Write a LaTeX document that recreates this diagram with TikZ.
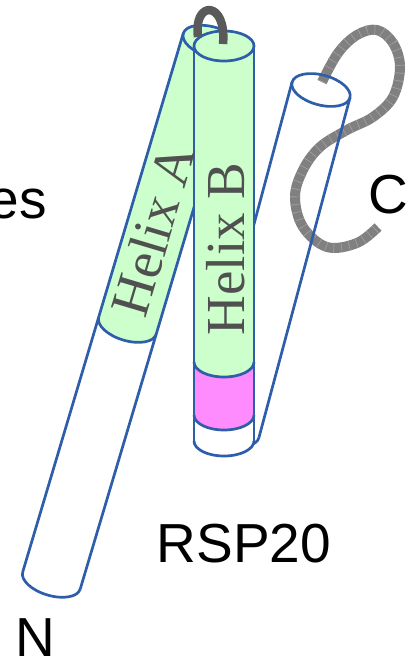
\documentclass[tikz,border=0pt]{standalone}
\usepackage{fontspec}
\setmainfont{Liberation Serif}
\setsansfont{Liberation Sans}
\definecolor{helixblue}{HTML}{2E5EAA}
\definecolor{helixgreen}{HTML}{CCFFCC}
\definecolor{helixpink}{HTML}{FF8CFF}
\definecolor{loopgray}{HTML}{808080}
\definecolor{tickgray}{HTML}{9C9C9C}
\definecolor{archgray}{HTML}{5A5A5A}
\definecolor{labelgray}{HTML}{505050}

% cylinder helpers: local axis runs along +y from the top face centre
\def\cw{30}
\def\cr{15}
\newcommand\cylband[3]{\fill[#3] (-\cw,#1) arc[start angle=180,end angle=0,x radius=\cw,y radius=\cr] -- (\cw,#2) arc[start angle=0,end angle=180,x radius=\cw,y radius=\cr] -- cycle;}
\newcommand\cyltopfill[1]{\fill[#1] (0,0) ellipse[x radius=\cw,y radius=\cr];}
\newcommand\cylrim[1]{\draw[outline] (-\cw,#1) arc[start angle=180,end angle=0,x radius=\cw,y radius=\cr];}
\newcommand\cylsides[1]{\draw[outline] (-\cw,0) -- (-\cw,#1) (\cw,0) -- (\cw,#1);}
\newcommand\cyltopline{\draw[outline] (0,0) ellipse[x radius=\cw,y radius=\cr];}

\begin{document}
\begin{tikzpicture}[x=1pt,y=-1pt,line join=round,
  outline/.style={draw=helixblue,line width=2.7pt},
  helixlabel/.style={font=\fontsize{55}{60}\selectfont,text=labelgray,inner sep=0pt},
  tag/.style={font=\sffamily\fontsize{55}{60}\selectfont,text=black,inner sep=0pt},
  linker/.style={line width=10pt,draw=loopgray,
    postaction={draw=tickgray,line width=10pt,dash pattern=on 0.8pt off 7pt}},
  hairpin/.style={line width=8.5pt,draw=archgray}]
\useasboundingbox (0,0) rectangle (405,664);
\clip (0,0) rectangle (405,664);

% helix C (behind the others)
\begin{scope}[shift={(321,90)},rotate=-15]
  \cylband{0}{352}{white}
  \cyltopfill{white}
\end{scope}
\draw[linker] plot[smooth,tension=0.6] coordinates {(322,82) (338,53) (357,35) (377,30) (393,43) (400,67) (393,97) (373,117) (347,130) (320,147) (303,170) (295,197) (303,227) (327,247) (357,243) (378,227)};
\begin{scope}[shift={(321,90)},rotate=-15]
  \cylsides{352}
  \cylrim{352}
  \cyltopline
\end{scope}

% helix A
\begin{scope}[shift={(212,42)},rotate=-16.6]
  \cylband{0}{296}{helixgreen}
  \cyltopfill{helixgreen}
  \cylband{296}{562}{white}
  \cylsides{562}
  \cylrim{296}
  \cylrim{562}
  \cyltopline
\end{scope}

% helix B
\begin{scope}[shift={(224,46)}]
  \cylband{0}{316}{helixgreen}
  \cyltopfill{helixgreen}
  \cylband{316}{369}{helixpink}
  \cylband{369}{395}{white}
  \cylsides{395}
  \cylrim{316}
  \cylrim{369}
  \cylrim{395}
  \cyltopline
\end{scope}

% hairpin between the tops of A and B
\draw[hairpin] (198,37) .. controls (193,0) and (227,0) .. (223,44);

% labels
\node[helixlabel,rotate=73.4] (labA) at (153,230) {Helix A};
\node[helixlabel,rotate=90] (labB) at (226,249) {Helix B};
\node[tag] (rsp) at (244,544) {RSP20};
\node[tag] (nterm) at (35,638) {N};
\node[tag] (cterm) at (388,195) {C};
\node[tag,anchor=base east] (side) at (47,218) {es};
\end{tikzpicture}
\end{document}
